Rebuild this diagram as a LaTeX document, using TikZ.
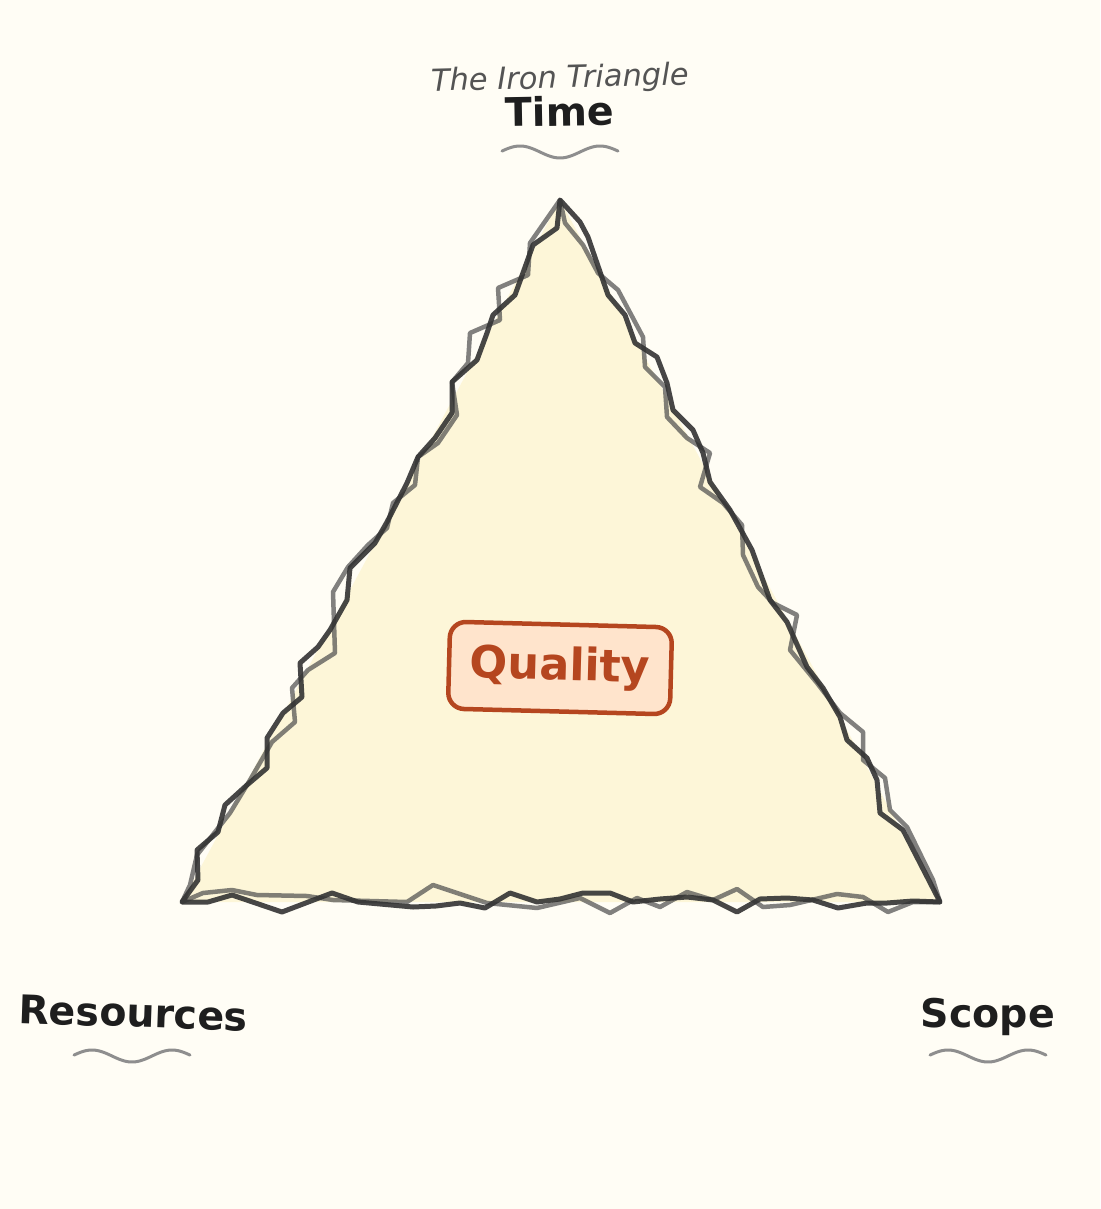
\documentclass[tikz,border=0pt]{standalone}
\usepackage{fontspec}
\setmainfont{DejaVu Sans}
\definecolor{paper}{HTML}{FFFDF5}
\definecolor{sand}{HTML}{FDF6D8}
\definecolor{ink}{HTML}{1E1E1E}
\definecolor{rust}{HTML}{B5461F}
\definecolor{peach}{HTML}{FFE4CC}
\definecolor{wavegray}{HTML}{8E8E8E}
\newcommand\Wave[2]{
\begin{scope}[shift={(#1,#2)}]
\draw[wavegray,line width=3pt,line cap=round]
  plot[domain=-58:58,samples=60,smooth] (\x,{6*cos(4.5*\x)});
\end{scope}
}
\tikzset{
  corner/.style={inner sep=0pt,anchor=base,text=ink,
    font=\bfseries\fontsize{39.5}{47}\selectfont},
  roughdark/.style={draw=black!80,line width=5pt,line join=round,opacity=0.9},
  roughlight/.style={draw=black!70,line width=4.5pt,line join=round,opacity=0.7}
}

\begin{document}
\begin{tikzpicture}[x=1pt,y=-1pt]
\useasboundingbox[fill=paper] (0,0) rectangle (1100,1209);
\coordinate (top) at (560,200);
\coordinate (left) at (182,902);
\coordinate (right) at (940,902);
\fill[sand] (top) -- (left) -- (right) -- cycle;

\draw[roughlight]
  (top) -- (530,243) -- (528,275) -- (498,288) -- (500,320) -- (470,333)
  -- (468,363) -- (452,382) -- (457,415) -- (438,443) -- (418,457)
  -- (415,485) -- (393,503) -- (387,528) -- (368,545) -- (348,567)
  -- (333,592) -- (335,653) -- (308,670) -- (292,688) -- (295,722)
  -- (272,742) -- (250,780) -- (230,813) -- (215,832) -- (197,855)
  -- (190,885) -- (left)
  -- (203,893) -- (232,890) -- (257,895) -- (307,896) -- (333,900)
  -- (407,902) -- (433,885) -- (487,903) -- (537,908) -- (580,898)
  -- (610,913) -- (637,898) -- (660,907) -- (687,892) -- (713,900)
  -- (737,889) -- (763,907) -- (790,905) -- (837,894) -- (863,897)
  -- (888,912) -- (913,902) -- (right)
  -- (933,880) -- (907,827) -- (890,810) -- (885,778) -- (863,760)
  -- (863,732) -- (840,713) -- (817,683) -- (790,650) -- (797,615)
  -- (773,603) -- (758,587) -- (743,555) -- (742,525) -- (723,503)
  -- (700,487) -- (710,453) -- (687,438) -- (667,417) -- (665,387)
  -- (645,367) -- (643,337) -- (618,290) -- (598,273) -- (583,245)
  -- (565,223) -- cycle;

\draw[roughdark]
  (top) -- (557,228) -- (533,245) -- (515,295) -- (493,315) -- (487,333)
  -- (477,360) -- (452,382) -- (452,413) -- (435,438) -- (418,457)
  -- (407,483) -- (387,522) -- (375,543) -- (350,568) -- (347,600)
  -- (330,630) -- (318,647) -- (300,663) -- (302,697) -- (283,713)
  -- (267,738) -- (267,768) -- (247,785) -- (225,805) -- (218,832)
  -- (197,850) -- (198,880) -- (left)
  -- (208,902) -- (232,895) -- (282,912) -- (332,893) -- (358,902)
  -- (413,907) -- (436,906) -- (460,903) -- (485,908) -- (510,893)
  -- (537,902) -- (560,899) -- (583,893) -- (610,893) -- (633,902)
  -- (660,899) -- (687,897) -- (713,900) -- (737,912) -- (760,899)
  -- (787,898) -- (813,900) -- (838,908) -- (867,903) -- (887,903)
  -- (913,901) -- (right)
  -- (903,830) -- (880,813) -- (877,780) -- (867,758) -- (847,740)
  -- (840,717) -- (823,688) -- (807,667) -- (787,622) -- (770,600)
  -- (752,550) -- (730,510) -- (710,482) -- (703,453) -- (693,430)
  -- (673,410) -- (667,383) -- (657,357) -- (635,343) -- (625,315)
  -- (608,295) -- (588,237) -- (580,222) -- cycle;

\node[draw=rust,fill=peach,text=rust,line width=4.5pt,rounded corners=16pt,
  minimum width=222pt,minimum height=87pt,rotate=-1.5,
  font=\bfseries\fontsize{44.5}{52}\selectfont] (quality) at (560,668) {Quality};

\node[inner sep=0pt,anchor=base,rotate=1.5,text=black!67,
  font=\itshape\fontsize{30.5}{36}\selectfont] (title) at (560,88) {The Iron Triangle};
\node[corner,rotate=1] (time) at (560,126) {Time};
\node[corner,rotate=-2] (resources) at (133,1027) {Resources};
\node[corner] (scope) at (988,1027) {Scope};

\Wave{560}{152}
\Wave{132}{1056}
\Wave{988}{1056}
\end{tikzpicture}
\end{document}
